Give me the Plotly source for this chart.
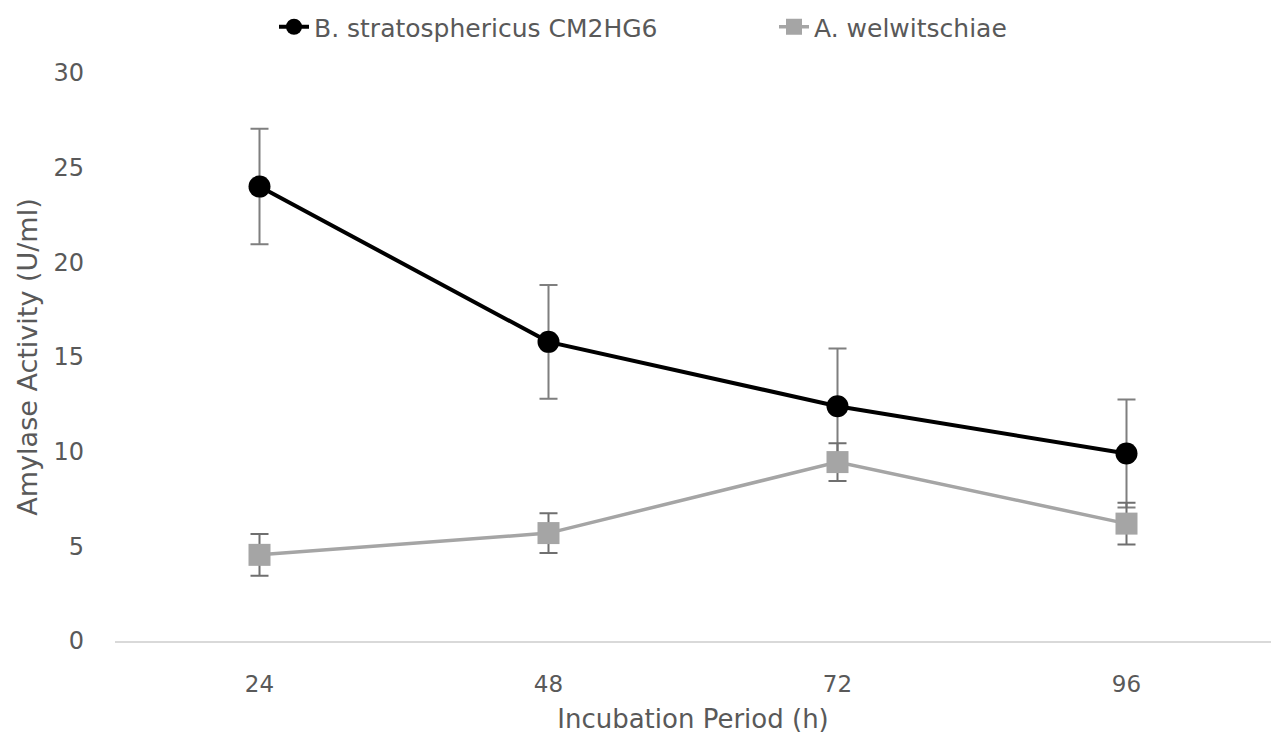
import plotly.graph_objects as go

periods = [24, 48, 72, 96]
tick_labels = ["24", "48", "72", "96"]
bs_values = [24.0, 15.8, 12.4, 9.9]
bs_errors = [3.05, 3.0, 3.05, 2.85]
aw_values = [4.55, 5.7, 9.45, 6.2]
aw_errors = [1.1, 1.05, 1.0, 1.1]

FONT = "DejaVu Sans"
font_color = "#595959"

fig = go.Figure()
fig.add_trace(go.Scatter(
    x=periods, y=bs_values, name="B. stratosphericus CM2HG6",
    mode="lines+markers",
    line=dict(color="#000000", width=4),
    marker=dict(symbol="circle", size=22, color="#000000"),
    error_y=dict(type="data", array=bs_errors, color="#7f7f7f", thickness=2, width=9),
))
fig.add_trace(go.Scatter(
    x=periods, y=aw_values, name="A. welwitschiae",
    mode="lines+markers",
    line=dict(color="#a5a5a5", width=3.5),
    marker=dict(symbol="square", size=22, color="#a5a5a5"),
    error_y=dict(type="data", array=aw_errors, color="#6f6f6f", thickness=2, width=9),
))

fig.update_layout(
    width=1274, height=740,
    margin=dict(l=115, r=3, t=73, b=99),
    paper_bgcolor="white", plot_bgcolor="white",
    font=dict(family=FONT, size=22, color=font_color),
    legend=dict(orientation="h", x=(282 - 115) / 1156, xanchor="left",
                y=1 - 27 / 740, yanchor="middle", yref="container",
                font=dict(family=FONT, size=25, color=font_color),
                entrywidth=455, traceorder="normal", borderwidth=0),
    showlegend=True,
)
fig.update_xaxes(
    range=[12, 108], tickvals=periods, ticktext=tick_labels,
    showgrid=False, zeroline=False, showline=True, linecolor="#d9d9d9", linewidth=1.5,
    ticks="", tickfont=dict(family=FONT, size=23, color=font_color),
    ticklabelstandoff=22,
    title=dict(text="Incubation Period (h)", font=dict(family=FONT, size=26, color=font_color), standoff=13),
)
fig.update_yaxes(
    range=[0, 30], tickvals=[0, 5, 10, 15, 20, 25, 30],
    showgrid=False, zeroline=False, showline=False, ticks="",
    tickfont=dict(family=FONT, size=24, color=font_color),
    ticklabelstandoff=30,
    title=dict(text="Amylase Activity (U/ml)", font=dict(family=FONT, size=27, color=font_color), standoff=8),
)

fig.write_html("out.html")
